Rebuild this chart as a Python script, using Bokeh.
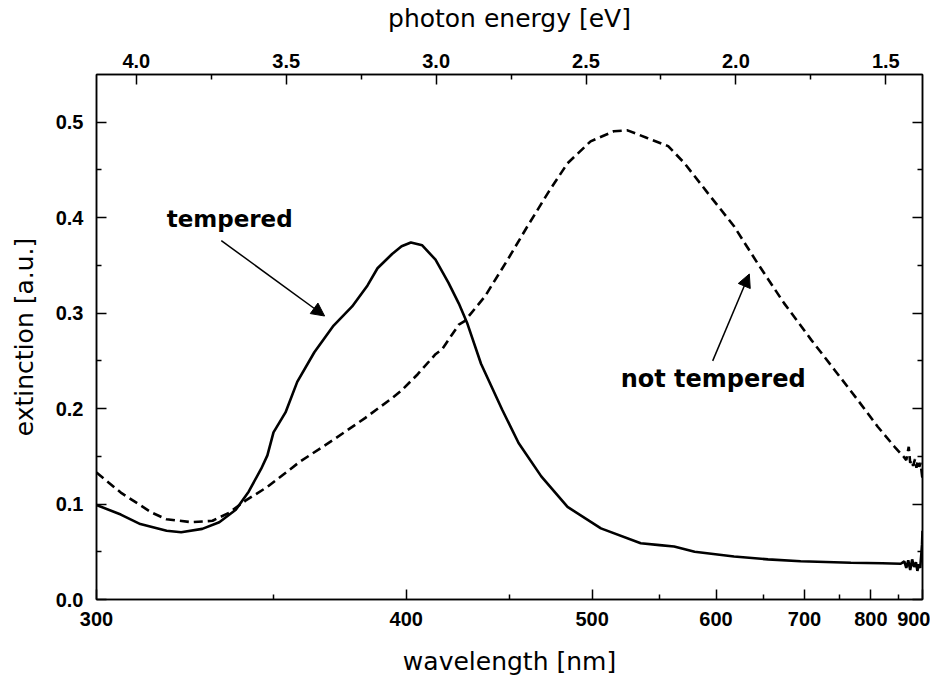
import numpy as np
from bokeh.plotting import figure
from bokeh.models import (Range1d, LinearAxis, FixedTicker, CustomJSTickFormatter,
                          Label, Arrow, NormalHead)
from bokeh.embed import file_html
from bokeh.resources import INLINE

HC = 1239.84  # eV * nm, photon energy = HC / wavelength

# ---------------- data ----------------
tempered_wavelength = [300, 306, 311, 318, 322, 328, 333, 338, 342, 346, 348, 350, 354,
                       358, 364, 371, 378, 384, 388, 394, 398, 402, 407, 413, 419, 424,
                       428, 435, 446, 455, 468, 484, 506, 535, 550, 562, 580, 618, 655,
                       695, 767, 820, 855, 862, 866, 870, 874, 878, 882, 886, 889, 892,
                       895, 897, 899, 900]
tempered_extinction = [0.099, 0.089, 0.079, 0.072, 0.0705, 0.074, 0.081, 0.094, 0.113,
                       0.137, 0.151, 0.175, 0.196, 0.228, 0.259, 0.287, 0.307, 0.329,
                       0.347, 0.362, 0.370, 0.374, 0.371, 0.356, 0.332, 0.310, 0.290,
                       0.247, 0.199, 0.164, 0.129, 0.097, 0.0745, 0.059, 0.057, 0.0555,
                       0.050, 0.045, 0.042, 0.040, 0.0385, 0.038, 0.0375, 0.040, 0.033,
                       0.041, 0.031, 0.042, 0.034, 0.039, 0.030, 0.037, 0.033, 0.045,
                       0.058, 0.072]

untempered_wavelength = [300, 306, 314, 318, 325, 331, 336, 341, 348, 359, 371, 383, 394,
                         398, 405, 413, 416, 424, 427, 437, 449, 460, 472, 484, 499, 515,
                         525, 540, 557, 571, 592, 618, 643, 674, 709, 742, 778, 812, 843,
                         860, 866, 871, 874, 877, 880, 884, 887, 890, 893, 896, 898, 900]
untempered_extinction = [0.133, 0.112, 0.091, 0.084, 0.081, 0.0825, 0.091, 0.1035, 0.118,
                         0.1445, 0.1675, 0.190, 0.211, 0.219, 0.236, 0.257, 0.262, 0.288,
                         0.292, 0.3175, 0.356, 0.391, 0.426, 0.457, 0.480, 0.4905, 0.4915,
                         0.4835, 0.475, 0.457, 0.426, 0.391, 0.3525, 0.3105, 0.272, 0.2405,
                         0.209, 0.181, 0.160, 0.150, 0.146, 0.160, 0.143, 0.146, 0.140,
                         0.147, 0.138, 0.146, 0.139, 0.143, 0.134, 0.126]

wavelength_major_ticks = [300, 400, 500, 600, 700, 800, 900]
wavelength_minor_ticks = [350, 450, 550, 650, 750, 850]
energy_major_ticks = [4.0, 3.5, 3.0, 2.5, 2.0, 1.5]
energy_minor_ticks = [3.75, 3.25, 2.75, 2.25, 1.75]
extinction_major_ticks = [0.0, 0.1, 0.2, 0.3, 0.4, 0.5]
extinction_minor_ticks = [0.05, 0.15, 0.25, 0.35, 0.45]

wavelength_limits = (300, 900)
extinction_limits = (0.0, 0.55)

# annotation anchors (wavelength nm, extinction)
tempered_label_pos = (318, 0.399)
tempered_arrow = ((333.6, 0.376), (367.7, 0.297))
untempered_label_pos = (520, 0.2314)
untempered_arrow = ((596.8, 0.250), (634.1, 0.341))


def to_energy(wl):
    return HC / np.asarray(wl, dtype=float)


TICK_FONT = "Liberation Sans"
TITLE_FONT = "DejaVu Sans"

p = figure(frame_width=826, frame_height=525,
           x_range=Range1d(HC / wavelength_limits[0], HC / wavelength_limits[1]),
           y_range=Range1d(*extinction_limits),
           x_axis_type=None, y_axis_type=None,
           output_backend="svg", toolbar_location=None,
           min_border_left=96, min_border_top=66, min_border_right=8, min_border_bottom=74)
p.outline_line_color = "black"
p.outline_line_width = 1.5
p.background_fill_color = "white"
p.border_fill_color = "white"


def style(ax):
    ax.axis_line_color = "black"
    ax.axis_line_width = 1.5
    ax.major_tick_in = 10
    ax.major_tick_out = 0
    ax.minor_tick_in = 5
    ax.minor_tick_out = 0
    ax.major_tick_line_width = 1.5
    ax.minor_tick_line_width = 1.5
    ax.major_tick_line_color = "black"
    ax.minor_tick_line_color = "black"
    ax.major_label_text_font = TICK_FONT
    ax.major_label_text_font_style = "bold"
    ax.major_label_text_font_size = "20px"
    ax.major_label_text_color = "black"
    ax.axis_label_text_font = TITLE_FONT
    ax.axis_label_text_font_style = "normal"
    ax.axis_label_text_font_size = "25px"
    ax.axis_label_text_color = "black"


# bottom: wavelength (ticks placed at the photon energy of each wavelength)
bottom = LinearAxis(
    ticker=FixedTicker(ticks=list(to_energy(wavelength_major_ticks)),
                       minor_ticks=list(to_energy(wavelength_minor_ticks))),
    formatter=CustomJSTickFormatter(code=f"return Math.round({HC} / tick).toString();"),
    axis_label="wavelength [nm]")
style(bottom)
bottom.major_label_standoff = 12
bottom.axis_label_standoff = 18
p.add_layout(bottom, "below")

# top: photon energy
top = LinearAxis(
    ticker=FixedTicker(ticks=energy_major_ticks, minor_ticks=energy_minor_ticks),
    formatter=CustomJSTickFormatter(code="return tick.toFixed(1);"),
    axis_label="photon energy [eV]")
style(top)
top.major_label_standoff = 7
top.axis_label_standoff = 18
p.add_layout(top, "above")

# left: extinction
left = LinearAxis(
    ticker=FixedTicker(ticks=extinction_major_ticks, minor_ticks=extinction_minor_ticks),
    formatter=CustomJSTickFormatter(code="return tick.toFixed(1);"),
    axis_label="extinction [a.u.]")
style(left)
left.major_label_standoff = 13
left.axis_label_standoff = 14
p.add_layout(left, "left")

# right: ticks only
right = LinearAxis(
    ticker=FixedTicker(ticks=extinction_major_ticks, minor_ticks=extinction_minor_ticks),
    formatter=CustomJSTickFormatter(code="return '';"))
style(right)
right.major_label_standoff = 0
p.add_layout(right, "right")

# curves
p.line(to_energy(tempered_wavelength), tempered_extinction,
       line_color="black", line_width=2.6)
p.line(to_energy(untempered_wavelength), untempered_extinction,
       line_color="black", line_width=2.6, line_dash="9 5")

# annotations
p.add_layout(Label(x=float(to_energy(tempered_label_pos[0])), y=tempered_label_pos[1],
                   text="tempered", text_font=TITLE_FONT, text_font_style="bold",
                   text_font_size="23px", text_align="left", text_baseline="middle",
                   text_color="black"))
p.add_layout(Label(x=float(to_energy(untempered_label_pos[0])), y=untempered_label_pos[1],
                   text="not tempered", text_font=TITLE_FONT, text_font_style="bold",
                   text_font_size="24px", text_align="left", text_baseline="middle",
                   text_color="black"))

for (start, end) in (tempered_arrow, untempered_arrow):
    p.add_layout(Arrow(x_start=float(to_energy(start[0])), y_start=start[1],
                       x_end=float(to_energy(end[0])), y_end=end[1],
                       line_color="black", line_width=1.5,
                       end=NormalHead(size=13, fill_color="black", line_color="black",
                                      line_width=1)))

open("out.html", "w").write(file_html(p, INLINE))
